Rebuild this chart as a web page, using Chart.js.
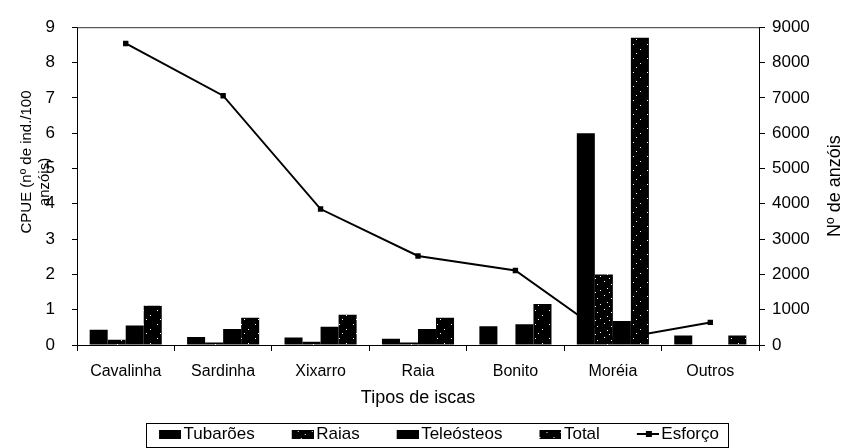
<!DOCTYPE html>
<html>
<head>
<meta charset="utf-8">
<script src="https://cdn.jsdelivr.net/npm/chart.js@4/dist/chart.umd.min.js"></script>
<style>
  html, body { margin: 0; padding: 0; background: #fff; }
  #wrap { width: 846px; height: 448px; }
</style>
</head>
<body>
<div id="wrap"><canvas id="c" width="846" height="448"></canvas></div>
<script>
// CPUE por tipo de isca (eixo esquerdo) e esforço em nº de anzóis (eixo direito)
const categories = ['Cavalinha', 'Sardinha', 'Xixarro', 'Raia', 'Bonito', 'Moréia', 'Outros'];
const tubaroes   = [0.43, 0.23, 0.21, 0.18, 0.53, 6.00, 0.27];
const raias      = [0.15, 0.07, 0.09, 0.07, 0.00, 2.00, 0.00];
const teleosteos = [0.55, 0.45, 0.52, 0.45, 0.59, 0.68, 0.00];
const total      = [1.11, 0.77, 0.86, 0.77, 1.16, 8.70, 0.27];
const esforco    = [8540, 7060, 3850, 2520, 2110, 150, 640];

const cpueTicks    = [0, 1, 2, 3, 4, 5, 6, 7, 8, 9];
const esforcoTicks = [0, 1000, 2000, 3000, 4000, 5000, 6000, 7000, 8000, 9000];

const FONT = '"Liberation Sans", Arial, sans-serif';

// black fill sprinkled with small white specks
function speckle(dots) {
  const c = document.createElement('canvas');
  c.width = 14; c.height = 14;
  const g = c.getContext('2d');
  g.fillStyle = '#000';
  g.fillRect(0, 0, 14, 14);
  g.fillStyle = '#fff';
  dots.forEach(([x, y]) => g.fillRect(x, y, 1, 1));
  return g.createPattern(c, 'repeat');
}
const raiasFill = speckle([[2, 1], [9, 4], [5, 8], [12, 10], [7, 12]]);
const totalFill = speckle([[3, 2], [10, 7], [6, 11]]);

// legend swatches: leading gap, swatch, tight gap before the text
const LEAD = 26, SW = 22, SH = 9;
function swatch(fill, isLine) {
  const c = document.createElement('canvas');
  c.width = LEAD + SW + 12; c.height = SH;
  const g = c.getContext('2d');
  const x0 = LEAD + 12;
  if (isLine) {
    g.fillStyle = '#000';
    g.fillRect(x0, Math.floor(SH / 2) - 1, SW + 2, 2);
    g.fillRect(x0 + SW / 2 - 2, Math.floor(SH / 2) - 3, 6, 6);
  } else {
    g.fillStyle = fill;
    g.fillRect(x0, 0, SW, SH);
  }
  return c;
}

const legendBox = {
  id: 'legendBox',
  afterDraw(chart) {
    const hb = chart.legend && chart.legend.legendHitBoxes;
    if (!hb || !hb.length) return;
    const ctx = chart.ctx;
    const first = hb[0], last = hb[hb.length - 1];
    const cy = first.top + first.height / 2;
    const l = Math.round(first.left + LEAD + 6 - 13) + 0.5;
    const r = Math.round(last.left + last.width + 9) + 0.5;
    ctx.save();
    ctx.strokeStyle = '#000';
    ctx.lineWidth = 1;
    ctx.strokeRect(l, Math.round(cy - 12) + 0.5, r - l, 24);
    ctx.restore();
  }
};

const frame = {
  id: 'frame',
  afterDraw(chart) {
    const {ctx, chartArea: a} = chart;
    ctx.save();
    // top edge of the plot area
    ctx.strokeStyle = '#333';
    ctx.lineWidth = 1;
    ctx.beginPath();
    ctx.moveTo(a.left, a.top + 0.5);
    ctx.lineTo(a.right, a.top + 0.5);
    ctx.stroke();
    // axis titles, both reading upwards
    ctx.fillStyle = '#000';
    ctx.textAlign = 'center';
    ctx.textBaseline = 'middle';
    ctx.font = '15px ' + FONT;
    ctx.save();
    ctx.translate(27, 162); ctx.rotate(-Math.PI / 2);
    ctx.fillText('CPUE (nº de ind./100', 0, 0);
    ctx.restore();
    ctx.save();
    ctx.translate(45, 182); ctx.rotate(-Math.PI / 2);
    ctx.fillText('anzóis)', 0, 0);
    ctx.restore();
    ctx.font = '18px ' + FONT;
    ctx.save();
    ctx.translate(835, (a.top + a.bottom) / 2); ctx.rotate(-Math.PI / 2);
    ctx.fillText('Nº de anzóis', 0, 0);
    ctx.restore();
    ctx.restore();
  }
};

const barBase = { borderWidth: 0, barPercentage: 1, categoryPercentage: 0.74, yAxisID: 'y', order: 0 };
const BOTTOM_PAD = -5;

new Chart(document.getElementById('c'), {
  data: {
    labels: categories,
    datasets: [
      Object.assign({ type: 'bar', label: 'Tubarões',   data: tubaroes,   backgroundColor: '#000' }, barBase),
      Object.assign({ type: 'bar', label: 'Raias',      data: raias,      backgroundColor: raiasFill }, barBase),
      Object.assign({ type: 'bar', label: 'Teleósteos', data: teleosteos, backgroundColor: '#000' }, barBase),
      Object.assign({ type: 'bar', label: 'Total',      data: total,      backgroundColor: totalFill }, barBase),
      {
        type: 'line', label: 'Esforço', data: esforco, yAxisID: 'y1', order: 1,
        borderColor: '#000', backgroundColor: '#000', borderWidth: 2, tension: 0,
        pointStyle: 'rect', pointRadius: 3.8, pointBorderWidth: 0, fill: false
      }
    ]
  },
  options: {
    responsive: false,
    animation: false,
    devicePixelRatio: 1,
    layout: { padding: { top: 15, left: 0, right: 0, bottom: BOTTOM_PAD } },
    plugins: {
      tooltip: { enabled: false },
      legend: {
        position: 'bottom',
        labels: {
          color: '#000',
          font: { family: FONT, size: 17 },
          padding: 5,
          usePointStyle: true,
          pointStyleWidth: LEAD + SW,
          generateLabels(chart) {
            return chart.data.datasets.map((ds, i) => ({
              text: ds.label,
              datasetIndex: i,
              hidden: false,
              fontColor: '#000',
              lineWidth: 0,
              pointStyle: swatch(ds.type === 'line' ? '#000' : ds.backgroundColor, ds.type === 'line')
            }));
          }
        }
      }
    },
    scales: {
      x: {
        offset: true,
        grid: { display: true, offset: true, drawOnChartArea: false, tickLength: 6, color: '#000' },
        border: { display: true, color: '#000', width: 1 },
        ticks: { color: '#000', font: { family: FONT, size: 16 }, padding: 11, maxRotation: 0 },
        title: { display: true, text: 'Tipos de iscas', color: '#000', font: { family: FONT, size: 18 }, padding: { top: 0, bottom: 12 } },
        afterFit(scale) {
          const ch = scale.chart;
          scale.height = ch.height - BOTTOM_PAD - 345 - (ch.legend ? ch.legend.height : 0);
        }
      },
      y: {
        position: 'left',
        min: 0, max: 9,
        afterBuildTicks(scale) { scale.ticks = cpueTicks.map(v => ({ value: v })); },
        grid: { display: true, drawOnChartArea: false, tickLength: 5, color: '#000' },
        border: { display: true, color: '#000', width: 1 },
        ticks: { color: '#000', font: { family: FONT, size: 17 }, padding: 17, callback: v => String(v) },
        afterFit(scale) { scale.width = 77; }
      },
      y1: {
        position: 'right',
        min: 0, max: 9000,
        afterBuildTicks(scale) { scale.ticks = esforcoTicks.map(v => ({ value: v })); },
        grid: { display: true, drawOnChartArea: false, tickLength: 6, color: '#000' },
        border: { display: true, color: '#000', width: 1 },
        ticks: { color: '#000', font: { family: FONT, size: 17 }, padding: 7, callback: v => String(v) },
        afterFit(scale) { scale.width = 87; }
      }
    }
  },
  plugins: [frame, legendBox]
});
</script>
</body>
</html>
